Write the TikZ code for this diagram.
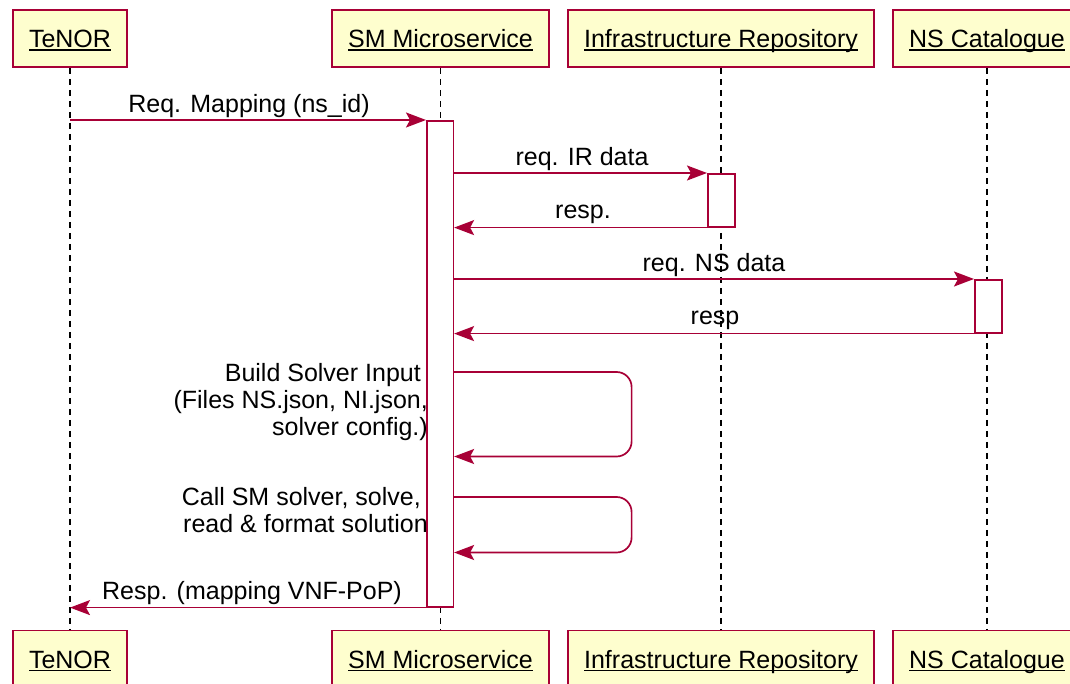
\documentclass[tikz,border=0pt]{standalone}
\usepackage{fontspec}
\setmainfont{Liberation Sans}
\usetikzlibrary{arrows.meta}
\definecolor{umlred}{HTML}{A80036}
\definecolor{umlfill}{HTML}{FEFECE}
\newcommand\myul[1]{\setbox0\hbox{#1}\rlap{\rule[-3pt]{\wd0}{1.4pt}}\box0}
\begin{document}
\begin{tikzpicture}[x=1pt,y=-1pt,
  font=\fontsize{25}{27}\selectfont,
  part/.style={draw=umlred, fill=umlfill, line width=1.6pt, minimum height=57pt,
    inner xsep=16pt, inner ysep=0pt, text height=20pt, text depth=1.6pt},
  life/.style={black, line width=1.2pt, dash pattern=on 6pt off 5pt},
  act/.style={draw=umlred, fill=white, line width=1.6pt, inner sep=0pt, anchor=north west},
  msg/.style={draw=umlred, line width=1.7pt, -{Stealth[length=20pt,width=15pt,inset=4pt]}},
  lbl/.style={anchor=base, inner sep=0pt, text=black},
  slbl/.style={anchor=north east, inner sep=0pt, align=right, text=black}
]
\useasboundingbox (0,0) rectangle (1070,684);

% participants (top)
\node[part] (tenor) at (70,38.5) {\myul{TeNOR}};
\node[part] (sm) at (440.5,38.5) {\myul{SM Microservice}};
\node[part] (ir) at (721,38.5) {\myul{Infrastructure Repository}};
\node[part] (ns) at (987,38.5) {\myul{NS Catalogue}};
% participants (bottom)
\node[part] (tenorB) at (70,659) {\myul{TeNOR}};
\node[part] (smB) at (440.5,659) {\myul{SM Microservice}};
\node[part] (irB) at (721,659) {\myul{Infrastructure Repository}};
\node[part] (nsB) at (987,659) {\myul{NS Catalogue}};

% lifelines
\draw[life] (tenor.south) -- (tenorB.north);
\draw[life] (sm.south) -- (smB.north);
\draw[life] (ir.south) -- (irB.north);
\draw[life] (ns.south) -- (nsB.north);

% activations
\node[act, minimum width=26.5pt, minimum height=486pt] (smact) at (426,120) {};
\node[act, minimum width=27pt, minimum height=53pt] (iract) at (707,173) {};
\node[act, minimum width=27pt, minimum height=53pt] (nsact) at (974,279) {};

% messages
\draw[msg] (tenor.south |- smact.north west) -- (smact.north west);
\node[lbl] at (249,113) {Req. Mapping (ns\_id)};

\draw[msg] (smact.east |- iract.north west) -- (iract.north west);
\node[lbl] at (582,166) {req. IR data};

\draw[msg] (iract.south west) -- (smact.east |- iract.south west);
\node[lbl] at (583,219) {resp.};

\draw[msg] (smact.east |- nsact.north west) -- (nsact.north west);
\node[lbl] at (714,272) {req. NS data};

\draw[msg] (nsact.south west) -- (smact.east |- nsact.south west);
\node[lbl] at (715,325) {resp};

% self messages
\coordinate (s1a) at (smact.east |- 0,372);
\coordinate (s1b) at (smact.east |- 0,456.5);
\draw[msg, rounded corners=15pt] (s1a) -- ++(177.5,0) |- (s1b);
\node[slbl] at (428,363) {Build Solver Input\hspace*{7pt}\\(Files NS.json, NI.json,\\solver config.)};

\coordinate (s2a) at (smact.east |- 0,497);
\coordinate (s2b) at (smact.east |- 0,552.5);
\draw[msg, rounded corners=15pt] (s2a) -- ++(177.5,0) |- (s2b);
\node[slbl] at (428,487) {Call SM solver, solve,\hspace*{7pt}\\read \& format solution};

\draw[msg] (smact.south west) -- (tenor.south |- smact.south west);
\node[lbl] at (252,599) {Resp. (mapping VNF-PoP)};
\end{tikzpicture}
\end{document}
